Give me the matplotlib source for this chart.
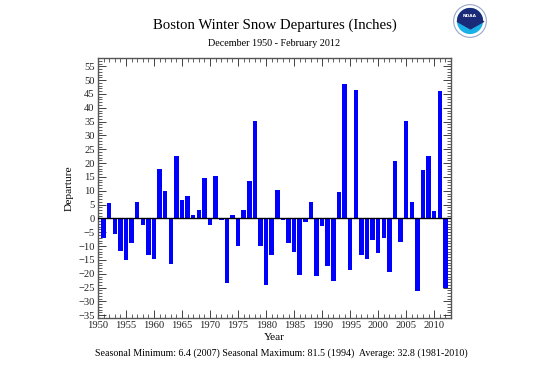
import numpy as np
import matplotlib.pyplot as plt
from matplotlib.patches import Circle, Wedge
from matplotlib.ticker import MultipleLocator

# winter snowfall departure from 1981-2010 normal (inches), winters ending 1951..2012
years = np.arange(1951, 2013)
departure = [
    -7.0, 5.5, -5.5, -11.6, -15.1, -8.9, 6.1, -2.4, -13.4, -14.8,
    17.8, 9.8, -16.5, 22.6, 6.5, 8.0, 1.2, 3.1, 14.6, -2.4,
    15.2, -0.7, -23.4, 1.1, -10.0, 3.0, 13.4, 35.4, -10.0, -23.9,
    -13.4, 10.4, -0.4, -8.9, -12.0, -20.3, -1.4, 5.9, -20.9, -2.8,
    -17.1, -22.6, 9.5, 48.7, -18.5, 46.6, -13.3, -14.8, -7.8, -12.5,
    -7.0, -19.5, 20.9, -8.4, 35.4, 6.1, -26.4, 17.4, 22.5, 2.8,
    46.0, -25.1,
]

plt.rcParams['font.family'] = ['Liberation Serif', 'DejaVu Serif']

fig = plt.figure(figsize=(5.5, 3.67), dpi=100)
ax = fig.add_axes([98/550, 49/367, 353/550, 260/367])

ax.bar(years, departure, width=0.8, color='#0000ff', edgecolor='#0000ff', linewidth=0, zorder=2)
ax.axhline(0, color='black', linewidth=1.0, zorder=3)

ax.set_xlim(1950, 2013)
ax.set_ylim(-36, 58)
ax.xaxis.set_major_locator(MultipleLocator(5))
ax.xaxis.set_minor_locator(MultipleLocator(1))
ax.yaxis.set_major_locator(MultipleLocator(5))
ax.yaxis.set_minor_locator(MultipleLocator(1))
ax.tick_params(which='both', direction='in', top=True, right=True, labelsize=7.6, colors='#222222')
ax.tick_params(which='major', length=6, width=0.6, pad=2.5)
ax.tick_params(which='minor', length=3, width=0.5)
for s in ax.spines.values():
    s.set_color('#555555')
    s.set_linewidth(1.0)

ax.set_xlabel('Year', fontsize=8.2, labelpad=2)
ax.set_ylabel('Departure', fontsize=8.2, labelpad=3)

fig.text(0.5 * (98 + 451) / 550, 1 - 25/367, 'Boston Winter Snow Departures (Inches)',
         ha='center', va='center', fontsize=10.6)
fig.text(0.5 * (98 + 451) / 550, 1 - 44/367, 'December 1950 - February 2012',
         ha='center', va='center', fontsize=7.3)
fig.text(281/550, 1 - 353/367,
         'Seasonal Minimum: 6.4 (2007) Seasonal Maximum: 81.5 (1994)  Average: 32.8 (1981-2010)',
         ha='center', va='center', fontsize=7.2)

# simple NOAA-style logo
lax = fig.add_axes([452/550, 1 - 39/367, 36/550, 36/367])
lax.set_xlim(-1.1, 1.1)
lax.set_ylim(-1.1, 1.1)
lax.set_aspect('equal')
lax.axis('off')
lax.add_patch(Circle((0, 0), 1.0, facecolor='white', edgecolor='#9aa6c8', linewidth=0.8))
lax.add_patch(Circle((0, 0), 0.8, facecolor='#1ab0e8', edgecolor='none'))
lax.add_patch(Wedge((0, 0), 0.8, 0, 180, facecolor='#1a2a78', edgecolor='none'))
lax.fill_between([-0.8, 0, 0.8], [0, -0.45, 0], [0, 0, 0], color='#1a2a78')
lax.text(0, 0.3, 'NOAA', color='white', fontsize=3.2, ha='center', va='center',
         family='DejaVu Sans', weight='bold')

fig.savefig('out.png', dpi=100)
